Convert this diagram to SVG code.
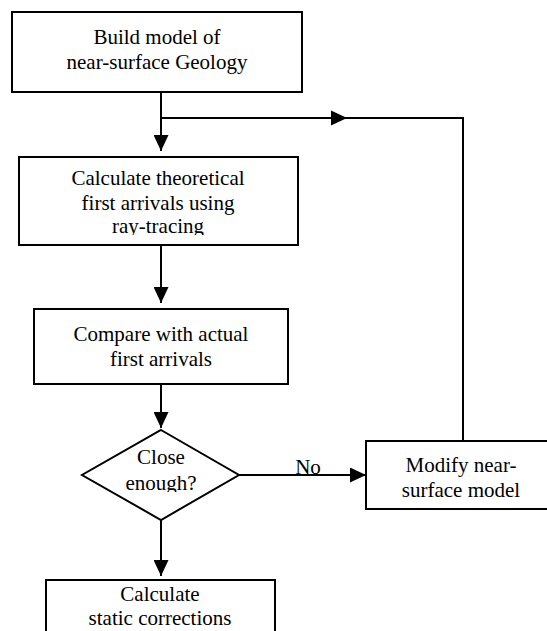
<svg xmlns="http://www.w3.org/2000/svg" width="547" height="631" viewBox="0 0 547 631">
<style>
.box{fill:#fff;stroke:#000;stroke-width:2}
.ln{fill:none;stroke:#000;stroke-width:2}
text{font-family:"Liberation Serif","Times New Roman",serif;font-size:21px;fill:#000;text-anchor:middle}
</style>
<defs>
<marker id="ah" viewBox="0 0 16 15" refX="16" refY="7.5" markerWidth="16" markerHeight="15" markerUnits="userSpaceOnUse" orient="auto">
<path d="M0,0 L16,7.5 L0,15 Z" fill="#000"/>
</marker>
<clipPath id="c2"><rect x="19" y="157" width="279" height="78"/></clipPath>
<clipPath id="c4"><rect x="82" y="430" width="157" height="62"/></clipPath>
</defs>
<rect width="547" height="631" fill="#fff"/>
<g id="connectors">
<path class="ln" d="M161,92 V151" marker-end="url(#ah)"/>
<path class="ln" d="M161,118 H346"/>
<path class="ln" d="M463,441 V118 H332"/>
<path d="M331,110.5 L347,118 L331,125.5 Z" fill="#000"/>
<path class="ln" d="M161,245 V303" marker-end="url(#ah)"/>
<path class="ln" d="M161,384 V428" marker-end="url(#ah)"/>
<path class="ln" d="M239,475 H366" marker-end="url(#ah)"/>
<path class="ln" d="M161,520 V576" marker-end="url(#ah)"/>
<text x="308" y="474">No</text>
</g>
<g id="n1">
<rect class="box" x="12" y="12" width="290" height="80"/>
<text x="157" y="44">Build model of</text>
<text x="157" y="69">near-surface Geology</text>
</g>
<g id="n2">
<rect class="box" x="19" y="157" width="279" height="88"/>
<text x="158" y="185">Calculate theoretical</text>
<text x="158" y="210">first arrivals using</text>
<text x="158" y="233" clip-path="url(#c2)">ray-tracing</text>
</g>
<g id="n3">
<rect class="box" x="34" y="309" width="254" height="75"/>
<text x="161" y="341">Compare with actual</text>
<text x="161" y="366">first arrivals</text>
</g>
<g id="n4">
<polygon class="box" points="161,430 239,475 161,520 82,475"/>
<text x="161" y="464">Close</text>
<text x="161" y="490" clip-path="url(#c4)">enough?</text>
</g>
<g id="n5">
<rect class="box" x="366" y="441" width="190" height="68"/>
<text x="461" y="472">Modify near-</text>
<text x="461" y="497">surface model</text>
</g>
<g id="n6">
<rect class="box" x="46" y="580" width="229" height="70"/>
<text x="160" y="601">Calculate</text>
<text x="160" y="625">static corrections</text>
</g>
</svg>
